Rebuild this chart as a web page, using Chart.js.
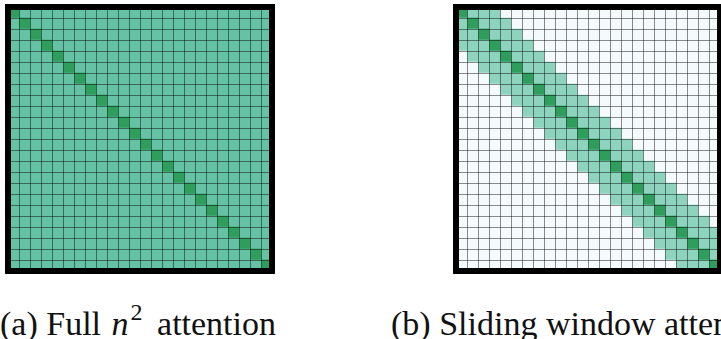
<!DOCTYPE html>
<html>
<head>
<meta charset="utf-8">
<script src="https://cdn.jsdelivr.net/npm/chart.js@4/dist/chart.umd.min.js"></script>
<style>
  html, body { margin: 0; padding: 0; background: #ffffff; }
  body { width: 721px; height: 339px; overflow: hidden; position: relative; }
  .panel { position: absolute; top: 4px; width: 270px; height: 270px; }
  .caption {
    position: absolute; top: 307px; white-space: nowrap;
    font-family: "Liberation Serif", "DejaVu Serif", serif;
    font-size: 34px; line-height: 34px; color: #111;
  }
  .caption i { font-style: italic; margin-left: 2px; }
  .caption sup { font-size: 24px; line-height: 0; vertical-align: 0; position: relative; top: -15px; margin-left: 2px; margin-right: 6px; }
</style>
</head>
<body>
<div class="panel" style="left:5px"><canvas id="full" width="270" height="270"></canvas></div>
<div class="panel" style="left:453px"><canvas id="sliding" width="270" height="270"></canvas></div>
<div class="caption" style="left:0px">(a) Full <i>n</i><sup>2</sup> attention</div>
<div class="caption" style="left:391px">(b) Sliding window attention</div>

<script>
// Sequence positions (query rows), the key each query sits on, and the
// sliding-window span [start, end) attended by each query.
const tokens = 24;
const rowLabels = ['1','2','3','4','5','6','7','8','9','10','11','12',
                   '13','14','15','16','17','18','19','20','21','22','23','24'];
const diagonal = [0,1,2,3,4,5,6,7,8,9,10,11,12,13,14,15,16,17,18,19,20,21,22,23];
const windowStart = [0,0,0,0,1,2,3,4,5,6,7,8,9,10,11,12,13,14,15,16,17,18,19,20];
const windowEnd = [4,5,6,7,8,9,10,11,12,13,14,15,16,17,18,19,20,21,22,23,24,24,24,24];

const COLORS = {
  attended: '#66c2a5',
  self: '#2f9e5c',
  window: '#8dd3be',
  empty: '#f5fbfd',
  grid: 'rgba(0,0,0,0.45)'
};

// Thick black frame drawn over the edge of the cell grid
const framePlugin = {
  id: 'frame',
  afterDraw(chart) {
    const a = chart.chartArea, ctx = chart.ctx;
    ctx.save();
    ctx.strokeStyle = '#000';
    ctx.lineWidth = 6;
    ctx.strokeRect(a.left, a.top, a.right - a.left, a.bottom - a.top);
    ctx.restore();
  }
};

function band(values, color) {
  return {
    data: values,
    backgroundColor: color,
    borderWidth: 0,
    grouped: false,
    barPercentage: 1,
    categoryPercentage: 1
  };
}

function makeChart(id, datasets) {
  return new Chart(document.getElementById(id), {
    type: 'bar',
    data: { labels: rowLabels, datasets },
    options: {
      indexAxis: 'y',
      responsive: false,
      animation: false,
      layout: { padding: 3 },
      plugins: { legend: { display: false }, tooltip: { enabled: false } },
      scales: {
        x: {
          type: 'linear', min: 0, max: tokens,
          ticks: { display: false, stepSize: 1 },
          grid: { color: COLORS.grid, lineWidth: 1, drawTicks: false, z: 1 },
          border: { display: false }
        },
        y: {
          type: 'category',
          ticks: { display: false },
          grid: { color: COLORS.grid, lineWidth: 1, drawTicks: false, offset: true, z: 1 },
          border: { display: false }
        }
      }
    },
    plugins: [framePlugin]
  });
}

// (a) every query attends to every key
makeChart('full', [
  band(diagonal.map(d => [0, d]), COLORS.attended),
  band(diagonal.map(d => [d, d + 1]), COLORS.self),
  band(diagonal.map(d => [d + 1, tokens]), COLORS.attended)
]);

// (b) each query attends only to keys inside its window
makeChart('sliding', [
  band(windowStart.map(s => [0, s]), COLORS.empty),
  band(windowStart.map((s, i) => [s, diagonal[i]]), COLORS.window),
  band(diagonal.map(d => [d, d + 1]), COLORS.self),
  band(windowEnd.map((e, i) => [diagonal[i] + 1, e]), COLORS.window),
  band(windowEnd.map(e => [e, tokens]), COLORS.empty)
]);
</script>
</body>
</html>
